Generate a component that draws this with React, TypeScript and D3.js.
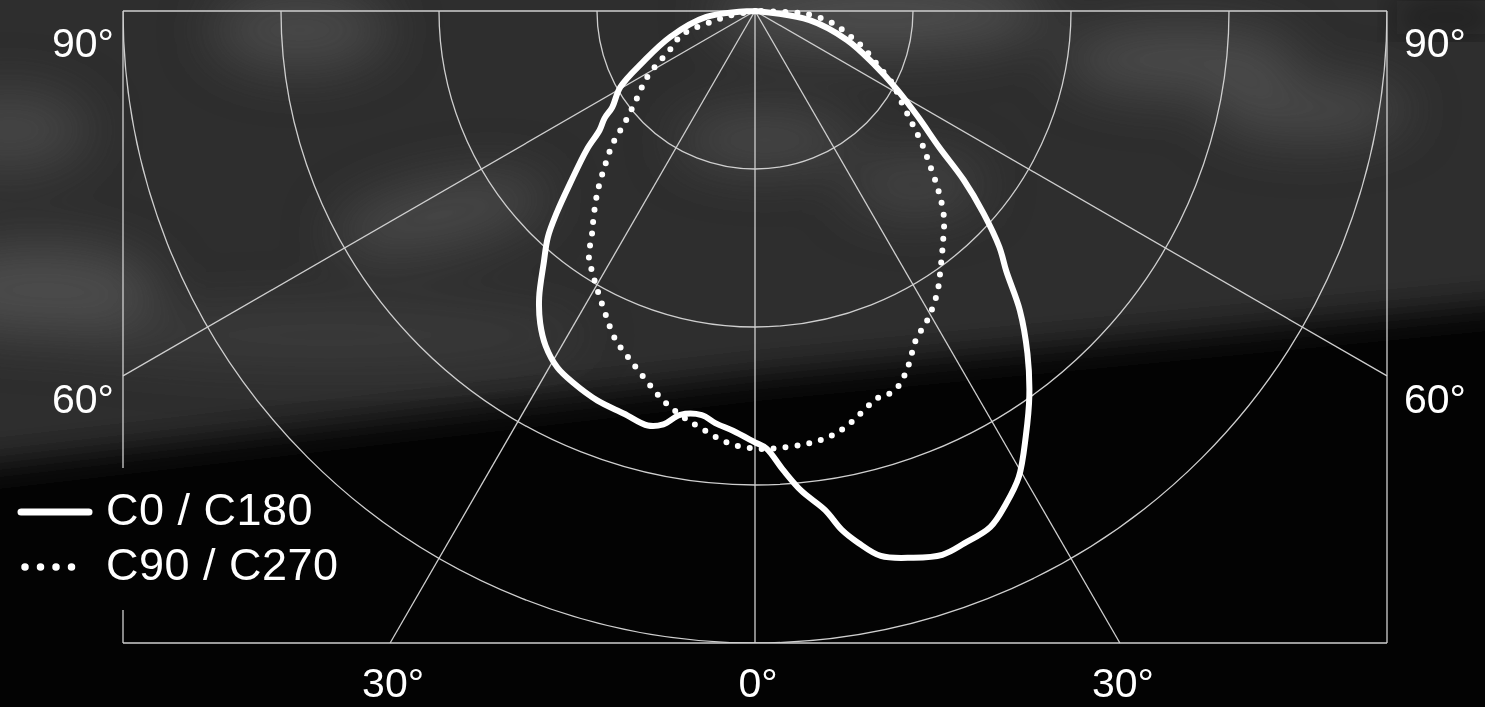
import * as d3 from 'd3';

// polar grid: rings are intensity steps, spokes are gamma angles (0 = straight down)
const ringValues = [100, 200, 300, 400];
const spokeAngles = [-90, -60, -30, 0, 30, 60, 90];
const sideTicks = [90, 60];
const bottomTicks = [-30, 0, 30];
const seriesNames = ['C0 / C180', 'C90 / C270'];

// C0 / C180 (solid)
const solidAngles = [
  -90, -83, -73, -65.5, -60.5, -56, -54.5, -52.5, -50.5, -47, -44.5,
  -42.5, -40, -37, -34.5, -32, -29, -26, -22, -18, -14.5,
  -12.5, -10.5, -7.5, -5.5, -3, 0, 1.5, 3.5, 5.5, 8,
  9.5, 11, 13, 16, 19, 21.5, 24.5, 27, 29.5, 32.5,
  35.5, 38.5, 41.5, 44, 46, 48.5, 51, 53.5, 57, 61,
  66, 72.5, 80.5, 90,
];
const solidValues = [
  0, 31, 56, 78, 98, 109, 117, 124, 138, 160, 179,
  194, 208, 227, 240, 250, 258, 262, 266, 268, 271,
  268, 260, 258, 262, 266, 273, 277, 291, 305, 319,
  333, 343, 354, 360, 364, 362, 359, 350, 339, 319,
  299, 277, 253, 229, 215, 193, 170, 145, 123, 103,
  82, 61, 35, 0,
];

// C90 / C270 (dotted)
const dottedAngles = [
  -90, -80, -76.5, -73.5, -71.5, -66.5, -64, -58.5, -53.5, -49.5,
  -47, -44, -41, -38, -36.5, -34, -32.5, -30, -26.5, -23,
  -19.5, -16, -13, -10, -7, -3.5, 0, 3, 6.5, 9.5,
  12.5, 16, 17.5, 19, 21, 23.5, 26, 29.5, 33, 36,
  39, 42.5, 45.5, 48.5, 51.5, 54.5, 58.5, 62, 66.5, 71.5,
  74.5, 81, 86, 88, 90,
];
const dottedValues = [
  0, 14, 27, 43, 50, 57, 63, 80, 93, 108,
  123, 137, 152, 166, 173, 188, 193, 201, 213, 226,
  235, 245, 254, 261, 267, 274, 277, 277, 276, 274,
  269, 260, 257, 257, 254, 244, 232, 223, 212, 200,
  189, 177, 163, 148, 135, 122, 108, 99, 84, 72,
  64, 50, 35, 22, 0,
];

const W = 1485;
const H = 707;
const FONT = '"Liberation Sans", Arial, Helvetica, sans-serif';
const GRID = '#cfcfcf';

export default function App() {
  const cx = 755;
  const cy = 11;
  const R = 632;
  const r = d3.scaleLinear().domain([0, 400]).range([0, R]);
  const rad = (deg: number) => (deg * Math.PI) / 180;

  const line = d3.lineRadial<[number, number]>()
    .angle((d) => Math.PI - rad(d[0]))
    .radius((d) => r(d[1]))
    .curve(d3.curveCatmullRom.alpha(0.5));

  const solid = solidAngles.map((a, i) => [a, solidValues[i]] as [number, number]);
  const dotted = dottedAngles.map((a, i) => [a, dottedValues[i]] as [number, number]);

  const spokeEnd = (a: number) => {
    const s = Math.sin(rad(a));
    const c = Math.cos(rad(a));
    const tx = Math.abs(s) > 1e-6 ? R / Math.abs(s) : Infinity;
    const ty = c > 1e-6 ? R / c : Infinity;
    const t = Math.min(tx, ty);
    return [cx + t * s, cy + t * c];
  };

  const left = cx - R;
  const right = cx + R;
  const bottom = cy + R;

  return (
    <>
      <style>{'body{margin:0;background:#000}'}</style>
      <svg width={W} height={H} style={{ display: 'block' }}>
        <defs>
          <filter id="soft" x="-20%" y="-20%" width="140%" height="140%">
            <feGaussianBlur stdDeviation="18" />
          </filter>
          <filter id="cloud" x="-60%" y="-60%" width="220%" height="220%">
            <feGaussianBlur stdDeviation="26" />
          </filter>
          <clipPath id="plot">
            <rect x={left} y={cy} width={2 * R} height={R} />
          </clipPath>
        </defs>

        {/* background */}
        <rect width={W} height={H} fill="#030303" />
        <polygon points={`-60,-60 ${W + 60},-60 ${W + 60},300 760,375 -60,470`} fill="#2d2d2d" filter="url(#soft)" />
        <g filter="url(#cloud)" fill="#5e5e5e">
          <ellipse cx={880} cy={15} rx={170} ry={35} opacity={0.7} />
          <ellipse cx={300} cy={30} rx={90} ry={40} opacity={0.55} />
          <ellipse cx={10} cy={130} rx={80} ry={40} opacity={0.5} />
          <ellipse cx={40} cy={290} rx={120} ry={45} opacity={0.65} />
          <ellipse cx={440} cy={215} rx={110} ry={32} opacity={0.55} transform="rotate(-12 440 215)" />
          <ellipse cx={765} cy={140} rx={90} ry={28} opacity={0.55} />
          <ellipse cx={915} cy={185} rx={70} ry={30} opacity={0.45} />
          <ellipse cx={1180} cy={60} rx={120} ry={35} opacity={0.6} />
          <ellipse cx={1310} cy={110} rx={100} ry={30} opacity={0.55} />
          <ellipse cx={330} cy={335} rx={260} ry={28} opacity={0.3} />
        </g>
        <rect x={right + 10} y={0} width={W - right} height={35} fill="#0a0a0a" opacity={0.5} filter="url(#soft)" />

        {/* grid */}
        <g clipPath="url(#plot)" fill="none" stroke={GRID} strokeWidth={1.3}>
          {ringValues.map((v) => (
            <circle key={v} cx={cx} cy={cy} r={r(v)} />
          ))}
        </g>
        <g stroke={GRID} strokeWidth={1.3}>
          {spokeAngles.map((a) => {
            const [x, y] = spokeEnd(a);
            return <line key={a} x1={cx} y1={cy} x2={x} y2={y} />;
          })}
          <line x1={left} y1={cy} x2={left} y2={468} />
          <line x1={left} y1={610} x2={left} y2={bottom} />
          <line x1={right} y1={cy} x2={right} y2={bottom} />
          <line x1={left} y1={bottom} x2={right} y2={bottom} />
        </g>

        {/* curves */}
        <g transform={`translate(${cx},${cy})`} fill="none" stroke="#fff">
          <path d={line(dotted) ?? ''} strokeWidth={6} strokeDasharray="0 12" strokeLinecap="round" />
          <path d={line(solid) ?? ''} strokeWidth={6} strokeLinejoin="round" strokeLinecap="round" />
        </g>

        {/* angle labels */}
        <g fill="#fff" fontFamily={FONT} fontSize={41}>
          {sideTicks.map((a) => {
            const [, y] = spokeEnd(a);
            const base = y + (a === 90 ? 46 : 37);
            return (
              <g key={a}>
                <text x={left - 9} y={base} textAnchor="end">{`${a}°`}</text>
                <text x={right + 17} y={base} textAnchor="start">{`${a}°`}</text>
              </g>
            );
          })}
          {bottomTicks.map((a) => {
            const [x] = spokeEnd(a);
            return (
              <text key={a} x={x + 3} y={697} textAnchor="middle">{`${Math.abs(a)}°`}</text>
            );
          })}
        </g>

        {/* legend */}
        <g fontFamily={FONT} fontSize={45} fill="#fff" letterSpacing={0.5}>
          <line x1={21} x2={89} y1={512} y2={512} stroke="#fff" strokeWidth={7} strokeLinecap="round" />
          <text x={106} y={525}>{seriesNames[0]}</text>
          <line x1={25} x2={87} y1={567} y2={567} stroke="#fff" strokeWidth={7.5} strokeDasharray="0 15.5" strokeLinecap="round" />
          <text x={106} y={580}>{seriesNames[1]}</text>
        </g>
      </svg>
    </>
  );
}
